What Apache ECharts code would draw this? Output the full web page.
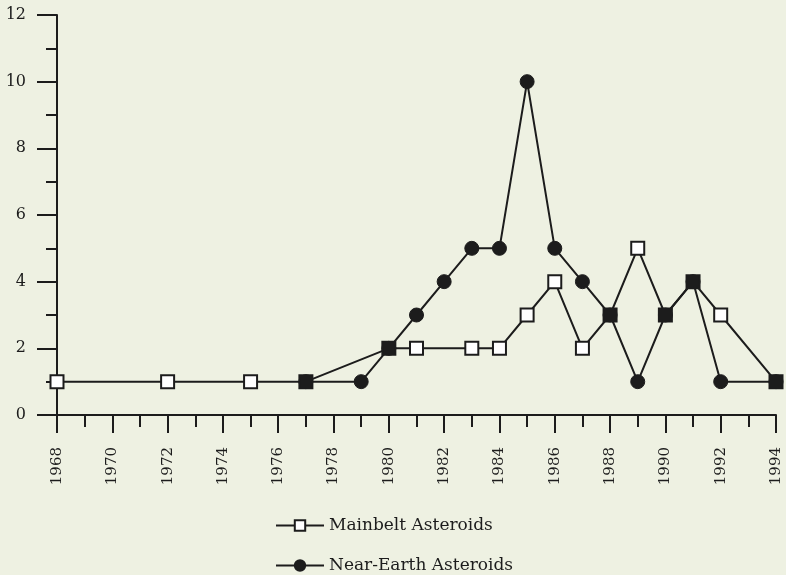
<!DOCTYPE html>
<html>
<head>
<meta charset="utf-8">
<script src="https://cdn.jsdelivr.net/npm/echarts@6/dist/echarts.min.js"></script>
<style>
  html, body { margin: 0; padding: 0; background: #eef1e2; }
  #chart { width: 786px; height: 575px; }
</style>
</head>
<body>
<div id="chart"></div>
<script>
// Asteroids observed per year
const mainbeltYears  = [1968, 1972, 1975, 1977, 1980, 1981, 1983, 1984, 1985, 1986, 1987, 1988, 1989, 1990, 1991, 1992, 1994];
const mainbeltCounts = [1, 1, 1, 1, 2, 2, 2, 2, 3, 4, 2, 3, 5, 3, 4, 3, 1];
const nearEarthYears  = [1977, 1979, 1980, 1981, 1982, 1983, 1984, 1985, 1986, 1987, 1988, 1989, 1990, 1991, 1992, 1994];
const nearEarthCounts = [1, 1, 2, 3, 4, 5, 5, 10, 5, 4, 3, 1, 3, 4, 1, 1];
const seriesNames = ['Mainbelt Asteroids', 'Near-Earth Asteroids'];

const INK = '#1c1c1c';
const FONT = 'DejaVu Serif';

// Points where both series share a value are drawn as solid squares
function coincides(year, count) {
  const i = nearEarthYears.indexOf(year);
  return i >= 0 && nearEarthCounts[i] === count;
}

const mainbeltData = mainbeltYears.map((y, i) => {
  const solid = coincides(y, mainbeltCounts[i]);
  return {
    value: [y, mainbeltCounts[i]],
    itemStyle: { color: solid ? INK : '#ffffff' }
  };
});
const nearEarthData = nearEarthYears.map((y, i) => [y, nearEarthCounts[i]]);

// One legend block per row, stacked beneath the axis
function legendRow(name, top) {
  return {
    data: [name],
    left: 275,
    top: top,
    padding: 0,
    itemWidth: 48,
    itemHeight: 13,
    textStyle: { fontFamily: FONT, fontSize: 17, color: INK }
  };
}

const chart = echarts.init(document.getElementById('chart'));
chart.setOption({
  backgroundColor: '#eef1e2',
  animation: false,
  grid: { left: 57, right: 10, top: 15, bottom: 160, containLabel: false },
  legend: [
    legendRow(seriesNames[0], 517),
    legendRow(seriesNames[1], 557)
  ],
  xAxis: {
    type: 'value',
    min: 1968,
    max: 1994,
    interval: 2,
    splitLine: { show: false },
    axisLine: { lineStyle: { color: INK, width: 2 } },
    axisTick: { length: 18, lineStyle: { color: INK, width: 2 } },
    minorTick: { show: true, splitNumber: 2, length: 12, lineStyle: { color: INK, width: 2 } },
    axisLabel: {
      rotate: 90,
      margin: 32,
      fontFamily: FONT,
      fontSize: 15,
      color: INK,
      formatter: v => String(v)
    }
  },
  yAxis: {
    type: 'value',
    min: 0,
    max: 12,
    interval: 2,
    splitLine: { show: false },
    axisLine: { show: true, lineStyle: { color: INK, width: 2 } },
    axisTick: { show: true, length: 20, lineStyle: { color: INK, width: 2 } },
    minorTick: { show: true, splitNumber: 2, length: 11, lineStyle: { color: INK, width: 2 } },
    axisLabel: {
      margin: 31,
      fontFamily: FONT,
      fontSize: 16,
      color: INK
    }
  },
  series: [
    {
      name: seriesNames[1],
      type: 'line',
      z: 2,
      data: nearEarthData,
      symbol: 'circle',
      symbolSize: 14,
      lineStyle: { color: INK, width: 2 },
      itemStyle: { color: INK, borderColor: INK, borderWidth: 1 }
    },
    {
      name: seriesNames[0],
      type: 'line',
      z: 3,
      data: mainbeltData,
      symbol: 'rect',
      symbolSize: 13,
      lineStyle: { color: INK, width: 2 },
      itemStyle: { color: '#ffffff', borderColor: INK, borderWidth: 2 }
    }
  ]
});
</script>
</body>
</html>
